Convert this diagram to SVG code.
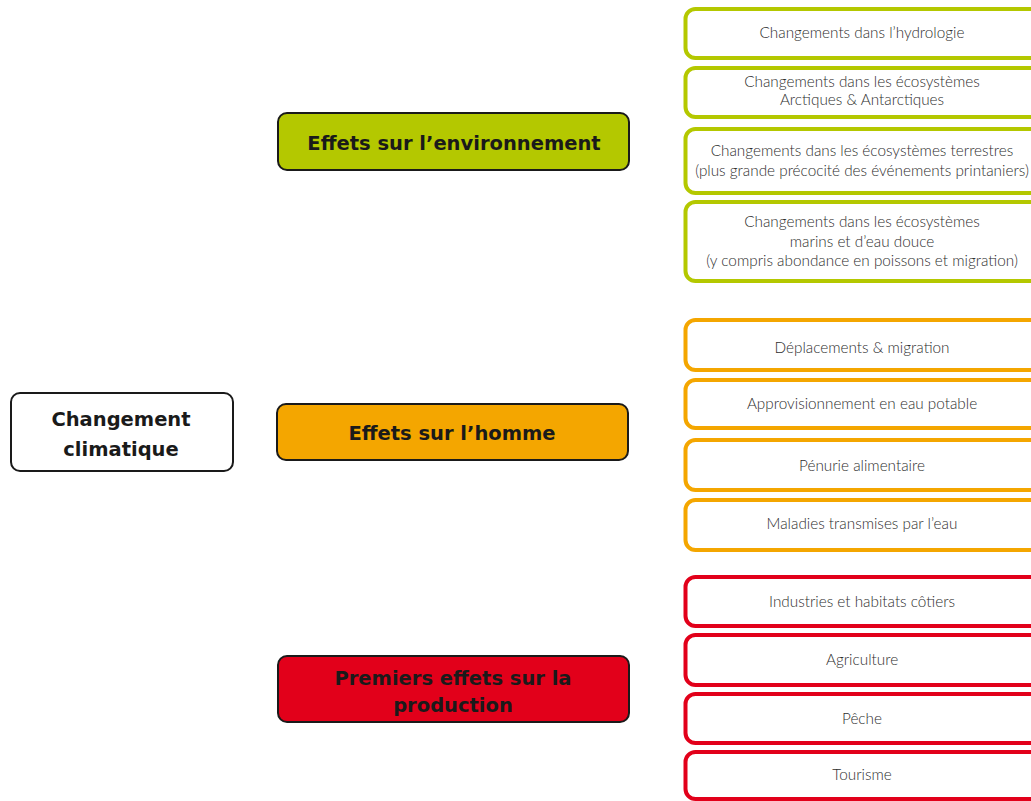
<svg xmlns="http://www.w3.org/2000/svg" width="1031" height="801" viewBox="0 0 1031 801">
<style>
.title{stroke:#1a1a1a;stroke-width:2}
.tt{font-family:"DejaVu Sans","Liberation Sans",Arial,sans-serif;font-weight:bold;font-size:19.5px;fill:#1a1a1a;text-anchor:middle}
.leaf{fill:#fff;stroke-width:4}
.g{stroke:#b4c800}
.o{stroke:#f4a600}
.r{stroke:#e2001a}
.lt{font-family:"Lato","Liberation Sans",Arial,sans-serif;font-weight:300;font-size:15.3px;fill:#2e2e2e;text-anchor:middle}
</style>
<rect width="1031" height="801" fill="#fff"/>
<g id="connectors"></g>
<g id="root">
<rect class="title" x="11" y="393" width="222" height="78" rx="9" fill="#fff"/>
<text class="tt" x="121" y="426">Changement</text>
<text class="tt" x="121" y="456">climatique</text>
</g>
<g id="env">
<rect class="title" x="278" y="113" width="351" height="57" rx="9" fill="#b4c800"/>
<text class="tt" x="454" y="150">Effets sur l’environnement</text>
</g>
<g id="homme">
<rect class="title" x="277" y="404" width="351" height="56" rx="9" fill="#f4a600"/>
<text class="tt" x="452" y="440">Effets sur l’homme</text>
</g>
<g id="prod">
<rect class="title" x="278" y="656" width="351" height="66" rx="9" fill="#e2001a"/>
<text class="tt" x="453" y="685">Premiers effets sur la</text>
<text class="tt" x="453" y="712">production</text>
</g>
<g id="g1"><rect class="leaf g" x="685.5" y="9" width="360" height="49" rx="10"/><text class="lt" x="862" y="38">Changements dans l’hydrologie</text></g>
<g id="g2"><rect class="leaf g" x="685.5" y="68" width="360" height="49" rx="10"/><text class="lt" x="862" y="87">Changements dans les écosystèmes</text><text class="lt" x="862" y="105">Arctiques &amp; Antarctiques</text></g>
<g id="g3"><rect class="leaf g" x="685.5" y="129" width="360" height="64" rx="10"/><text class="lt" x="862" y="156">Changements dans les écosystèmes terrestres</text><text class="lt" x="862" y="176">(plus grande précocité des événements printaniers)</text></g>
<g id="g4"><rect class="leaf g" x="685.5" y="202" width="360" height="79" rx="10"/><text class="lt" x="862" y="227">Changements dans les écosystèmes</text><text class="lt" x="862" y="247">marins et d’eau douce</text><text class="lt" x="862" y="266">(y compris abondance en poissons et migration)</text></g>
<g id="o1"><rect class="leaf o" x="685.5" y="320" width="360" height="50" rx="10"/><text class="lt" x="862" y="353">Déplacements &amp; migration</text></g>
<g id="o2"><rect class="leaf o" x="685.5" y="380" width="360" height="48" rx="10"/><text class="lt" x="862" y="409">Approvisionnement en eau potable</text></g>
<g id="o3"><rect class="leaf o" x="685.5" y="440" width="360" height="50" rx="10"/><text class="lt" x="862" y="471">Pénurie alimentaire</text></g>
<g id="o4"><rect class="leaf o" x="685.5" y="500" width="360" height="50" rx="10"/><text class="lt" x="862" y="529">Maladies transmises par l’eau</text></g>
<g id="r1"><rect class="leaf r" x="685.5" y="577" width="360" height="49" rx="10"/><text class="lt" x="862" y="607">Industries et habitats côtiers</text></g>
<g id="r2"><rect class="leaf r" x="685.5" y="635" width="360" height="50" rx="10"/><text class="lt" x="862" y="665">Agriculture</text></g>
<g id="r3"><rect class="leaf r" x="685.5" y="694" width="360" height="49" rx="10"/><text class="lt" x="862" y="724">Pêche</text></g>
<g id="r4"><rect class="leaf r" x="685.5" y="752" width="360" height="47" rx="10"/><text class="lt" x="862" y="780">Tourisme</text></g>
</svg>
